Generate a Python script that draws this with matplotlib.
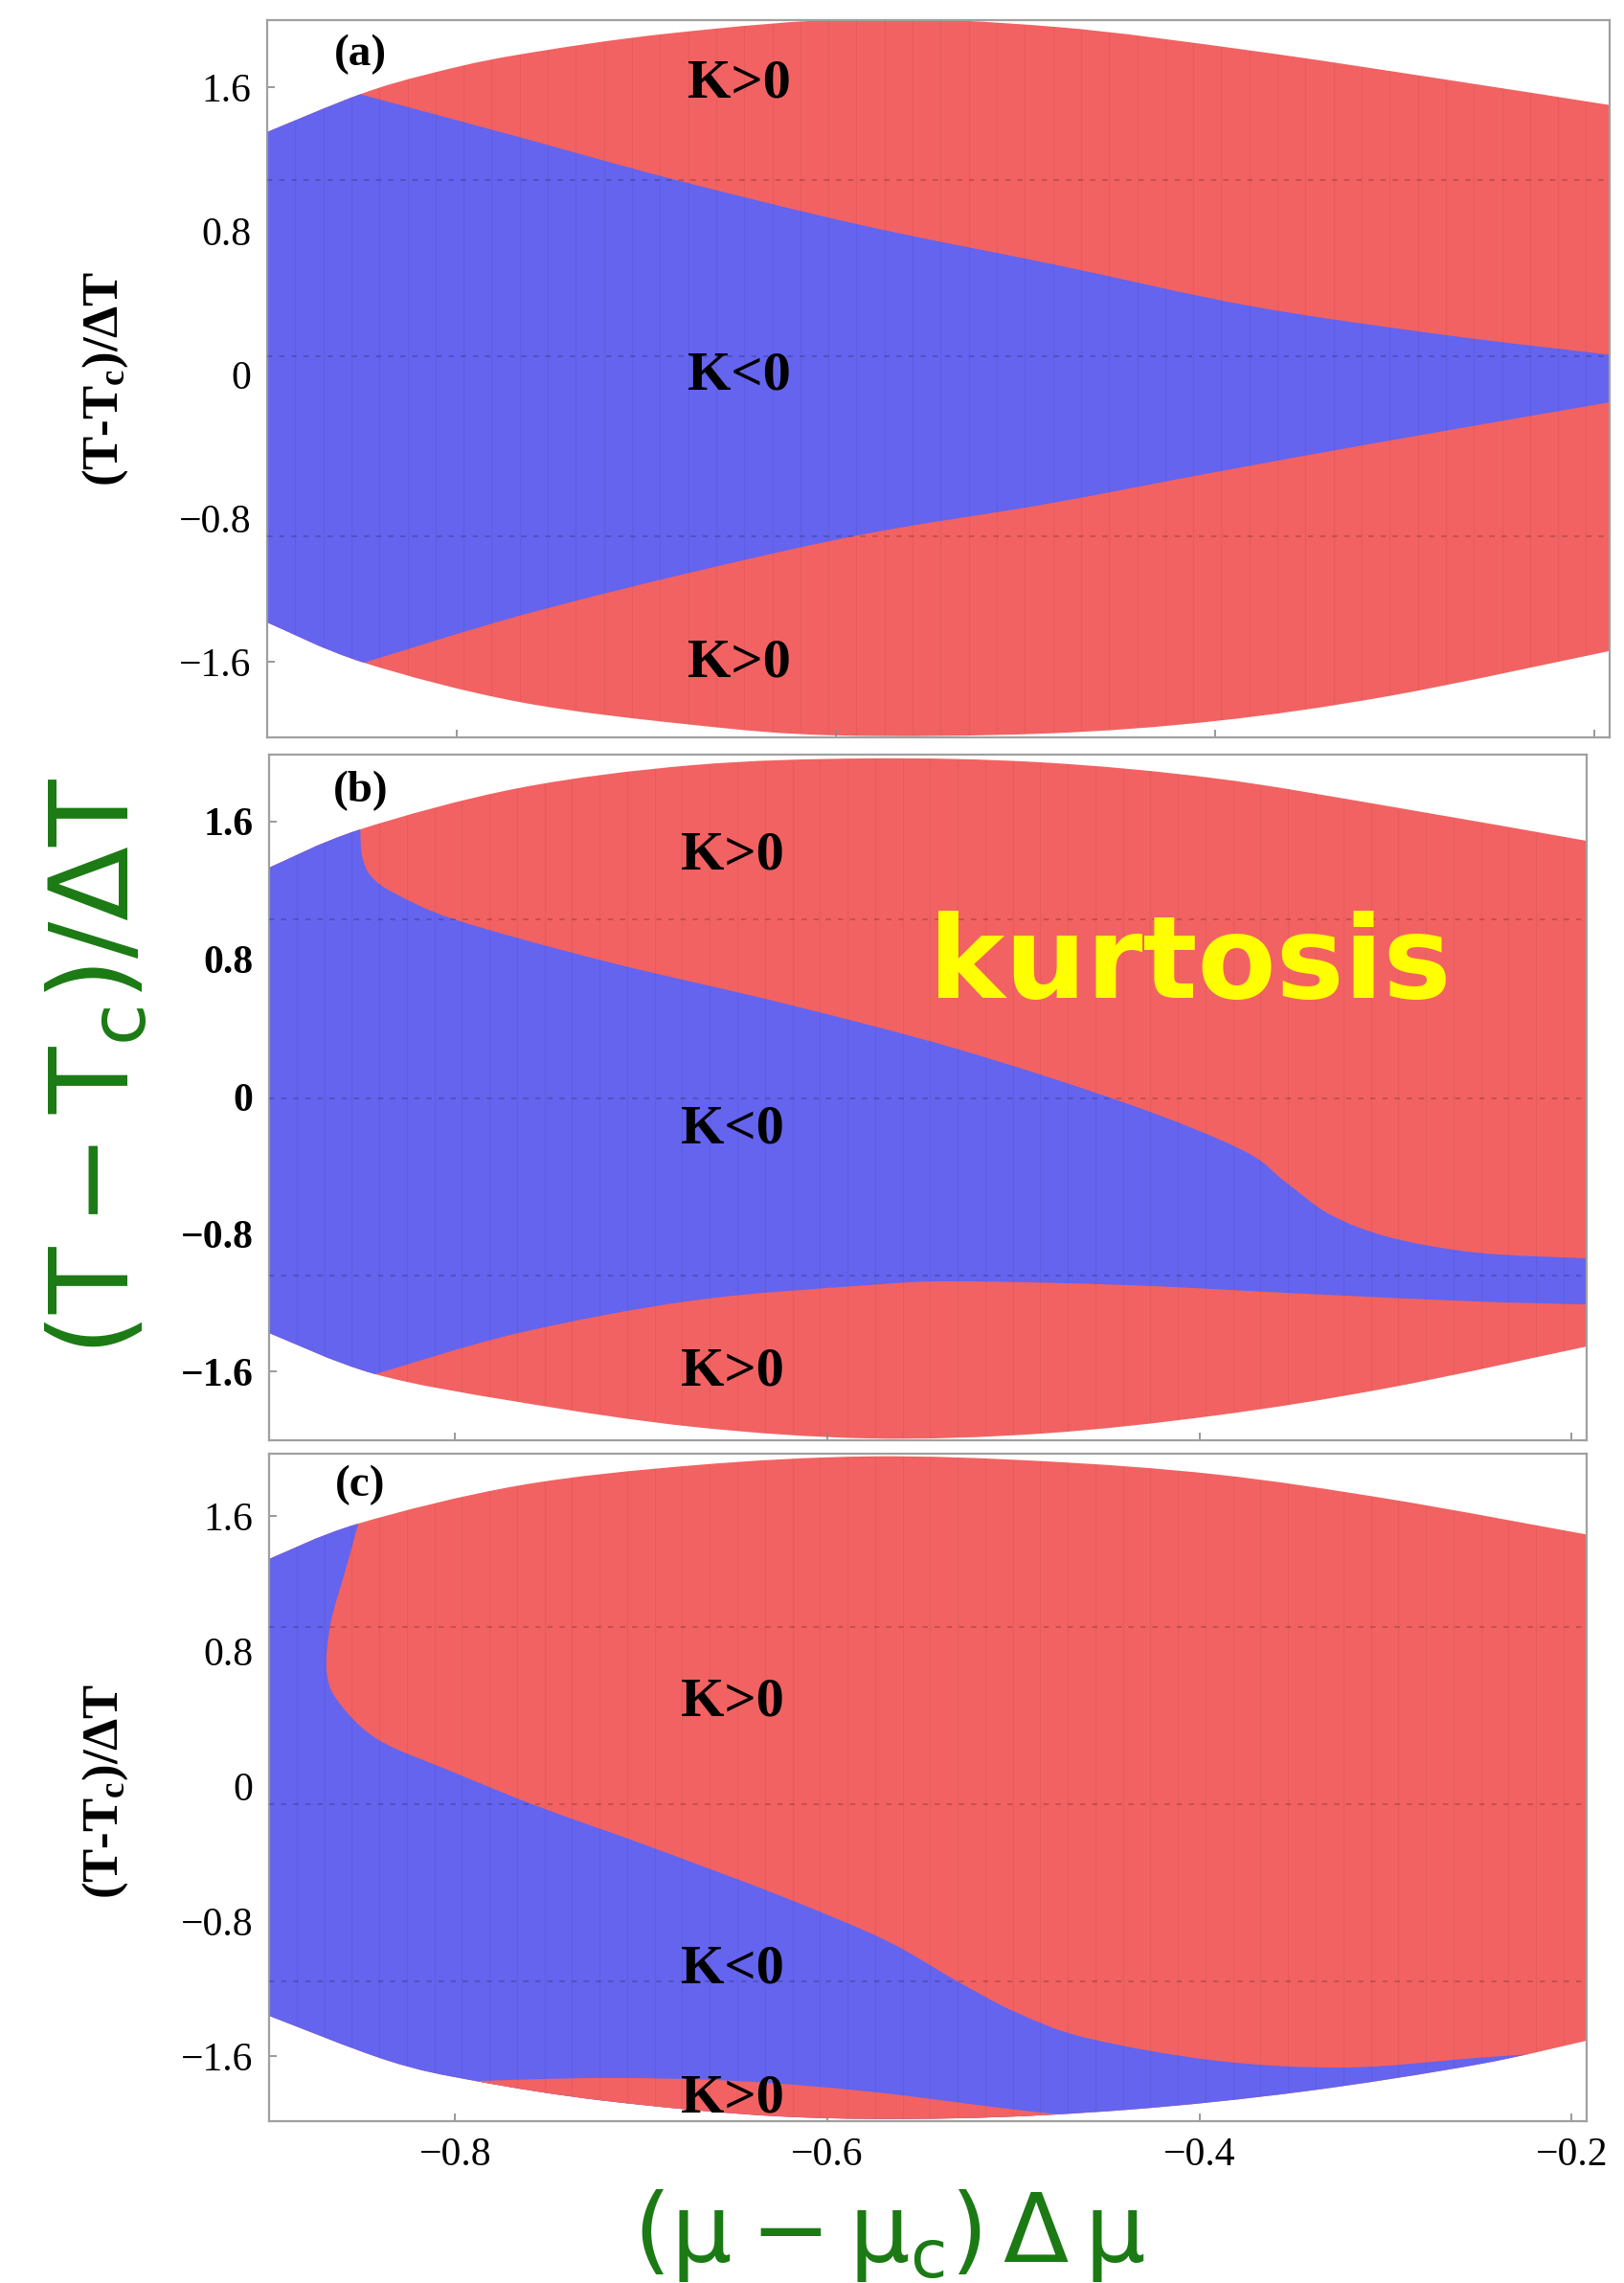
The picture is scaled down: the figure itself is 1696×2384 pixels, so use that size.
"""
Kurtosis sign maps in the (mu, T) plane near the critical point, three panels
"""
import numpy as np
import matplotlib.pyplot as plt
from matplotlib.path import Path
from matplotlib.patches import PathPatch

W, H = 1696, 2384
BLUE = "#6464ee"
RED = "#f26262"
GREEN = "#1b7a14"
SERIF = "Liberation Serif"

XLIM = (-0.9, -0.192)
YTICKS = [-1.6, -0.8, 0.0, 0.8, 1.6]
YTICKLABELS = ["\u22121.6", "\u22120.8", "0", "0.8", "1.6"]
XTICKS = [-0.8, -0.6, -0.4, -0.2]
XTICKLABELS = ["\u22120.8", "\u22120.6", "\u22120.4", "\u22120.2"]

# ---- panel (a) ----
a_top_x = [-0.9, -0.851, -0.816, -0.770, -0.687, -0.586, -0.484, -0.381, -0.279, -0.192]
a_top_y = [1.35, 1.56, 1.67, 1.776, 1.90, 1.98, 1.935, 1.803, 1.643, 1.50]
a_bot_x = [-0.9, -0.849, -0.767, -0.675, -0.6, -0.491, -0.4, -0.308, -0.192]
a_bot_y = [-1.381, -1.605, -1.824, -1.952, -2.01, -2.0, -1.93, -1.79, -1.54]
a_neg_hi_x = [-0.851, -0.770, -0.687, -0.586, -0.484, -0.381, -0.279, -0.192]
a_neg_hi_y = [1.56, 1.33, 1.09, 0.83, 0.61, 0.38, 0.22, 0.11]
a_neg_lo_x = [-0.849, -0.767, -0.675, -0.583, -0.491, -0.4, -0.308, -0.192]
a_neg_lo_y = [-1.605, -1.344, -1.099, -0.885, -0.725, -0.544, -0.368, -0.155]
a_labels = [(-0.651, 1.616, "K>0"), (-0.651, -0.01, "K<0"), (-0.651, -1.61, "K>0")]
a_seams = [1.08, 0.1, -0.9]

# ---- panel (b) ----
b_top_x = [-0.9, -0.851, -0.766, -0.672, -0.578, -0.485, -0.391, -0.298, -0.192]
b_top_y = [1.332, 1.555, 1.795, 1.929, 1.968, 1.945, 1.851, 1.689, 1.488]
b_bot_x = [-0.9, -0.843, -0.766, -0.672, -0.578, -0.485, -0.391, -0.298, -0.192]
b_bot_y = [-1.377, -1.616, -1.778, -1.923, -1.99, -1.962, -1.856, -1.695, -1.455]
b_neg_hi_x = [-0.851, -0.850, -0.845, -0.832, -0.799, -0.719, -0.625, -0.531,
              -0.438, -0.377, -0.354, -0.330, -0.298, -0.251, -0.192]
b_neg_hi_y = [1.555, 1.40, 1.28, 1.18, 1.026, 0.786, 0.546, 0.279,
              -0.045, -0.312, -0.496, -0.686, -0.819, -0.909, -0.942]
b_neg_lo_x = [-0.843, -0.766, -0.672, -0.578, -0.531, -0.438, -0.344, -0.251, -0.192]
b_neg_lo_y = [-1.616, -1.377, -1.187, -1.098, -1.076, -1.098, -1.148, -1.193, -1.21]
b_labels = [(-0.651, 1.40, "K>0"), (-0.651, -0.195, "K<0"), (-0.651, -1.605, "K>0")]
b_seams = [1.03, -0.01, -1.04]

# ---- panel (c) ----
c_top_x = [-0.9, -0.852, -0.766, -0.672, -0.578, -0.485, -0.391, -0.298, -0.192]
c_top_y = [1.345, 1.555, 1.78, 1.90, 1.953, 1.925, 1.846, 1.70, 1.49]
c_bot_x = [-0.9, -0.836, -0.789, -0.719, -0.625, -0.531, -0.438, -0.344, -0.251, -0.192]
c_bot_y = [-1.362, -1.628, -1.748, -1.866, -1.958, -1.969, -1.918, -1.81, -1.651, -1.509]
c_neg_hi_x = [-0.852, -0.859, -0.867, -0.869, -0.862, -0.841, -0.803, -0.756, -0.696,
              -0.625, -0.569, -0.531, -0.499, -0.461, -0.391, -0.321, -0.251, -0.213, -0.192]
c_neg_hi_y = [1.555, 1.277, 0.959, 0.67, 0.488, 0.272, 0.091, -0.119, -0.357,
              -0.652, -0.913, -1.152, -1.339, -1.492, -1.628, -1.668, -1.611, -1.58, -1.54]
c_blob_x = [-0.789, -0.719, -0.649, -0.578, -0.508, -0.475, -0.46]
c_blob_y = [-1.748, -1.73, -1.748, -1.81, -1.906, -1.946, -1.96]
c_labels = [(-0.651, 0.499, "K>0"), (-0.651, -1.084, "K<0"), (-0.651, -1.85, "K>0")]
c_seams = [0.94, -0.11, -1.16]


def rect(left, top, right, bottom):
    return [left / W, 1 - bottom / H, (right - left) / W, (bottom - top) / H]


def bezier(xs, ys):
    """Catmull-Rom through the points, as cubic Bezier control triples."""
    p = np.column_stack([xs, ys]).astype(float)
    n = len(p)
    out = []
    for i in range(n - 1):
        p0, p1 = p[max(i - 1, 0)], p[i]
        p2, p3 = p[i + 1], p[min(i + 2, n - 1)]
        out += [p1 + (p2 - p0) / 6, p2 - (p3 - p1) / 6, p2]
    return tuple(p[0]), out


def region(pieces, color, zorder):
    verts, codes = [], []
    for kind, a, b in pieces:
        if kind == "curve":
            start, ctrl = bezier(a, b)
            verts.append(start)
            codes.append(Path.LINETO if codes else Path.MOVETO)
            verts += ctrl
            codes += [Path.CURVE4] * len(ctrl)
        else:
            for pt in a:
                verts.append(pt)
                codes.append(Path.LINETO if codes else Path.MOVETO)
    verts.append(verts[0])
    codes.append(Path.CLOSEPOLY)
    return PathPatch(Path(verts, codes), facecolor=color, edgecolor="none",
                     zorder=zorder)


def outer_patch(ax, tx, ty, bx, by):
    x0, x1 = ax.get_xlim()
    p = region([
        ("line", [(x0 - 0.05, ty[0])], None),
        ("curve", tx, ty),
        ("line", [(x1 + 0.05, ty[-1]), (x1 + 0.05, by[-1])], None),
        ("curve", bx[::-1], by[::-1]),
        ("line", [(x0 - 0.05, by[0])], None),
    ], RED, 1)
    ax.add_patch(p)
    return p


def neg_region(ax, clip, hx, hy, lx=None, ly=None):
    x0, x1 = ax.get_xlim()
    big = 5.0
    pieces = [("line", [(x0 - 0.05, big), (hx[0], big)], None),
              ("curve", hx, hy)]
    if lx is None:
        pieces.append(("line", [(x1 + 0.05, hy[-1]), (x1 + 0.05, -big),
                                (x0 - 0.05, -big)], None))
    else:
        pieces += [("line", [(x1 + 0.05, hy[-1]), (x1 + 0.05, ly[-1])], None),
                   ("curve", lx[::-1], ly[::-1]),
                   ("line", [(lx[0], -big), (x0 - 0.05, -big)], None)]
    p = ax.add_patch(region(pieces, BLUE, 2))
    p.set_clip_path(clip)
    return p


def texture(ax, clip, seams):
    # faint mesh lines left over from the original rendering
    xs = np.arange(-0.9, -0.19, 0.0148)
    v = ax.vlines(xs, -2.1, 2.1, colors="k", alpha=0.05, lw=0.8, zorder=3)
    v.set_clip_path(clip)
    h = ax.hlines(seams, -0.9, -0.19, colors="k", alpha=0.2, lw=1.3,
                  linestyles=(0, (3, 4)), zorder=3)
    h.set_clip_path(clip)


def style(ax, ylim, bold_ticks=False, xlabels=False):
    ax.set_xlim(*XLIM)
    ax.set_ylim(*ylim)
    for s in ax.spines.values():
        s.set_color("#a0a0a0")
        s.set_linewidth(1.6)
    ax.set_yticks(YTICKS)
    ax.set_yticklabels(YTICKLABELS, family=SERIF, fontsize=30,
                       fontweight="bold" if bold_ticks else "normal")
    ax.set_xticks(XTICKS)
    if xlabels:
        ax.set_xticklabels(XTICKLABELS, family=SERIF, fontsize=30)
    else:
        ax.set_xticklabels([])
    ax.tick_params(direction="in", length=6, width=1.2, color="#888888", pad=12)


plt.rcParams["mathtext.default"] = "regular"
fig = plt.figure(figsize=(W / 100, H / 100), dpi=100)

ax_a = fig.add_axes(rect(279, 21, 1681, 770))
ax_b = fig.add_axes(rect(281, 788, 1657, 1504))
ax_c = fig.add_axes(rect(281, 1518, 1657, 2215))

style(ax_a, (-2.021, 1.973))
style(ax_b, (-2.001, 1.99), bold_ticks=True)
style(ax_c, (-1.986, 1.969), xlabels=True)

# (a)
clip = outer_patch(ax_a, a_top_x, a_top_y, a_bot_x, a_bot_y)
neg_region(ax_a, clip, a_neg_hi_x, a_neg_hi_y, a_neg_lo_x, a_neg_lo_y)
texture(ax_a, clip, a_seams)

# (b)
clip = outer_patch(ax_b, b_top_x, b_top_y, b_bot_x, b_bot_y)
neg_region(ax_b, clip, b_neg_hi_x, b_neg_hi_y, b_neg_lo_x, b_neg_lo_y)
texture(ax_b, clip, b_seams)

# (c): K<0 band reaches the lower edge, small K>0 pocket at the bottom
clip = outer_patch(ax_c, c_top_x, c_top_y, c_bot_x, c_bot_y)
neg_region(ax_c, clip, c_neg_hi_x, c_neg_hi_y)
pocket = ax_c.add_patch(region([
    ("curve", c_blob_x, c_blob_y),
    ("line", [(c_blob_x[-1], -5.0), (c_blob_x[0], -5.0)], None),
], RED, 2))
pocket.set_clip_path(clip)
texture(ax_c, clip, c_seams)

for ax, labels, tag in [(ax_a, a_labels, "(a)"), (ax_b, b_labels, "(b)"), (ax_c, c_labels, "(c)")]:
    for x, y, s in labels:
        ax.text(x, y, s, family=SERIF, fontweight="bold", fontsize=42,
                ha="center", va="center", zorder=5)
    ax.text(-0.851, 1.78, tag, family=SERIF, fontweight="bold", fontsize=34,
            ha="center", va="center", zorder=5)

ax_b.text(-0.405, 0.758, "kurtosis", family="DejaVu Sans", fontweight="bold",
          fontsize=86, color="#ffff00", ha="center", va="center", zorder=6)

# axis titles
small_ylabel = r"(T-T$_\mathregular{c}$)/$\Delta$T"
for yc in (395, 1870):
    fig.text(110 / W, 1 - yc / H, small_ylabel, family=SERIF, fontweight="bold",
             fontsize=38, rotation=90, ha="center", va="center", math_fontfamily="stix")

fig.text(103 / W, 1 - 1114 / H, r"$(T-T_c)/\Delta T$", family="DejaVu Sans",
         fontsize=82, color=GREEN, rotation=90, ha="center", va="center",
         math_fontfamily="dejavusans")
fig.text(928 / W, 1 - 2362 / H, r"$(\mu-\mu_c)\,\Delta\,\mu$", family="DejaVu Sans",
         fontsize=72, color=GREEN, ha="center", va="baseline",
         math_fontfamily="dejavusans")

fig.savefig("out.png", dpi=100)
